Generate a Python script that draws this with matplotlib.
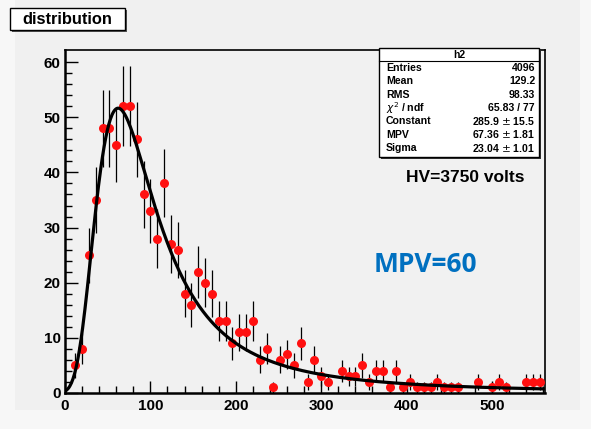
import numpy as np
import matplotlib
matplotlib.use("Agg")
import matplotlib.pyplot as plt
from matplotlib.patches import Rectangle

# ---- data ----
bin_centers = [4, 12, 20, 28, 36, 44, 52, 60, 68, 76, 84, 92, 100, 108, 116, 124, 132, 140,
               148, 156, 164, 172, 180, 188, 196, 204, 212, 220, 228, 236, 244, 252, 260,
               268, 276, 284, 292, 300, 308, 316, 324, 332, 340, 348, 356, 364, 372, 380,
               388, 396, 404, 412, 420, 428, 436, 444, 452, 460, 468, 476, 484, 492, 500,
               508, 516, 524, 532, 540, 548, 556]
counts = [0, 5, 8, 25, 35, 48, 48, 45, 52, 52, 46, 36, 33, 28, 38, 27, 26, 18,
          16, 22, 20, 18, 13, 13, 9, 11, 11, 13, 6, 8, 1, 6, 7,
          5, 9, 2, 6, 3, 2, 0, 4, 3, 3, 5, 2, 4, 4, 1,
          4, 1, 2, 1, 1, 1, 2, 1, 1, 1, 0, 0, 2, 0, 1,
          2, 1, 0, 0, 2, 2, 2]

# fit parameters (from stats box)
fit_constant = 285.9
fit_mpv = 67.36
fit_sigma = 23.04

stats_labels = ["Entries", "Mean", "RMS", r"$\chi^2$ / ndf", "Constant", "MPV", "Sigma"]
stats_values = ["4096", "129.2", "98.33", "65.83 / 77", "285.9 $\\pm$ 15.5",
                "67.36 $\\pm$ 1.81", "23.04 $\\pm$ 1.01"]

xticks = [0, 100, 200, 300, 400, 500]
yticks = [0, 10, 20, 30, 40, 50, 60]


def landau(lam):
    t = np.linspace(1e-9, 60, 30001)
    lam = np.atleast_1d(lam)[:, None]
    integrand = np.exp(-t * np.log(t) - lam * t) * np.sin(np.pi * t)
    return np.trapezoid(integrand, t, axis=1) / np.pi


W, H = 591, 429
fig = plt.figure(figsize=(W / 100, H / 100), dpi=100)
fig.patch.set_facecolor("#f7f7f7")
fig.patches.append(Rectangle((15 / W, (H - 410) / H), 565 / W, 410 / H,
                             transform=fig.transFigure, facecolor="#f0f0f0",
                             edgecolor="none", zorder=-5))

ax_l, ax_r, ax_t, ax_b = 65, 545, 50, 393
ax = fig.add_axes([ax_l / W, (H - ax_b) / H, (ax_r - ax_l) / W, (ax_b - ax_t) / H])
ax.set_zorder(1)
ax.set_facecolor("#f1f1f1")

x = np.array(bin_centers, dtype=float)
y = np.array(counts, dtype=float)
mask = y > 0
ax.errorbar(x[mask], y[mask], yerr=np.sqrt(y[mask]), fmt="none", ecolor="black",
            elinewidth=0.9, capsize=0, zorder=2)
ax.plot(x[mask], y[mask], "o", color="#ff1010", markersize=6.5, markeredgewidth=0,
        zorder=3)

xf = np.linspace(0, 560, 600)
yf = fit_constant * landau((xf - fit_mpv) / fit_sigma)
ax.plot(xf, yf, color="black", lw=2.3, zorder=4)

ax.set_xlim(0, 562)
ax.set_ylim(0, 62.2)
ax.set_xticks(xticks)
ax.set_yticks(yticks)
ax.set_xticks(np.arange(0, 562, 20), minor=True)
ax.set_yticks(np.arange(0, 62, 2), minor=True)
ax.tick_params(which="both", direction="in", top=False, right=False, width=1)
ax.tick_params(which="major", length=9)
ax.tick_params(which="minor", length=5)
ax.tick_params(axis="y", pad=3)
ax.tick_params(axis="x", pad=4)
for lab in ax.get_xticklabels() + ax.get_yticklabels():
    lab.set_fontfamily("Liberation Sans")
    lab.set_fontweight("bold")
    lab.set_fontsize(11)
for s in ["left", "bottom"]:
    ax.spines[s].set_linewidth(1.8)
for s in ["top", "right"]:
    ax.spines[s].set_linewidth(1.2)

# overlay axes for boxes and text, above the plot axes
ov = fig.add_axes([0, 0, 1, 1])
ov.set_zorder(2)
ov.set_xlim(0, W)
ov.set_ylim(H, 0)
ov.axis("off")
ov.patch.set_alpha(0)

# title box
ov.add_patch(Rectangle((12, 10), 115, 22, facecolor="#555555", edgecolor="none"))
ov.add_patch(Rectangle((10, 8), 115, 22, facecolor="white", edgecolor="black", lw=1))
ov.text(67.5, 19.5, "distribution", ha="center", va="center",
        fontsize=11.8, fontweight="bold", family="Liberation Sans")

# stats box
bx0, bx1, by0, by1 = 379, 539, 48, 157
ov.add_patch(Rectangle((bx0 + 2, by0 + 2), bx1 - bx0, by1 - by0,
                       facecolor="#333333", edgecolor="none"))
ov.add_patch(Rectangle((bx0, by0), bx1 - bx0, by1 - by0,
                       facecolor="white", edgecolor="black", lw=1))
ov.plot([bx0, bx1], [61, 61], color="black", lw=0.8)
ov.text((bx0 + bx1) / 2, 54.5, "h2", ha="center", va="center",
        fontsize=7.5, fontweight="bold", family="Liberation Sans")
for i, (lab, val) in enumerate(zip(stats_labels, stats_values)):
    yy = 68 + 13.3 * i
    ov.text(bx0 + 7, yy, lab, ha="left", va="center", fontsize=7.6,
            fontweight="bold", family="Liberation Sans")
    ov.text(bx1 - 4, yy, val, ha="right", va="center", fontsize=7.6,
            fontweight="bold", family="Liberation Sans")

ov.text(465, 177, "HV=3750 volts", ha="center", va="center",
        fontsize=12.5, fontweight="bold", family="Liberation Sans")
ov.text(425, 264, "MPV=60", ha="center", va="center",
        fontsize=19, fontweight="bold", family="Open Sans", color="#0070c0")

fig.savefig("out.png", dpi=100, facecolor=fig.get_facecolor())
